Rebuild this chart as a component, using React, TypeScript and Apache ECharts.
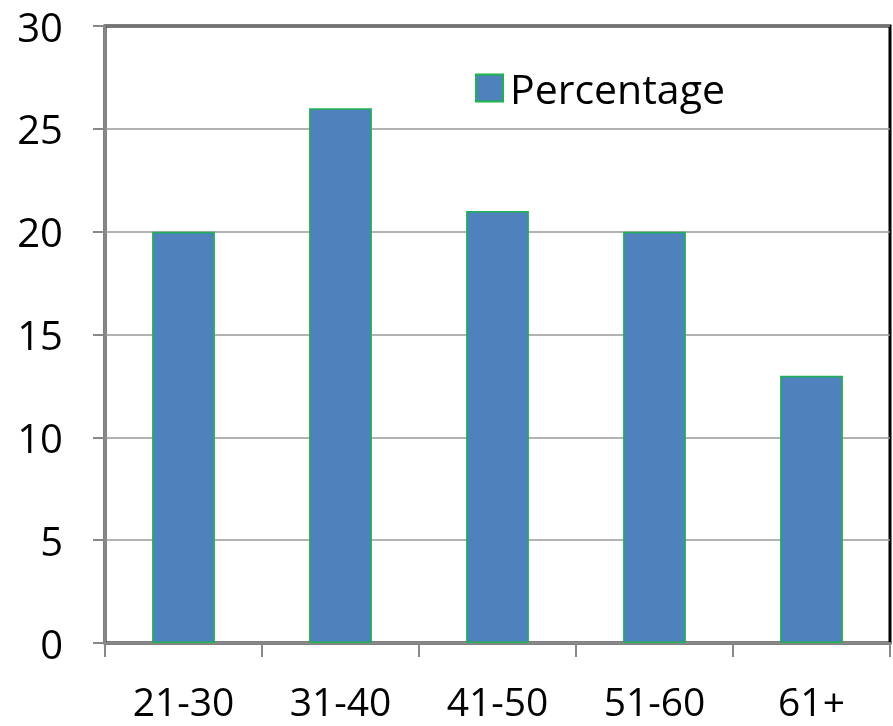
import React, { useEffect, useRef } from "react";
import * as echarts from "echarts";

const categories = ["21-30", "31-40", "41-50", "51-60", "61+"];
const percentage = [20, 26, 21, 20, 13];
const seriesName = "Percentage";

export default function App() {
  const ref = useRef<HTMLDivElement>(null);
  useEffect(() => {
    const chart = echarts.init(ref.current!, null, { renderer: "svg" });
    const font = "'Open Sans', 'Noto Sans', sans-serif";
    chart.setOption({
      animation: false,
      textStyle: { fontFamily: font },
      grid: {
        left: 105,
        right: 3,
        top: 26,
        bottom: 83,
        show: true,
        borderColor: "#000",
        borderWidth: 3,
        backgroundColor: "#fff",
      },
      legend: {
        show: true,
        data: [seriesName],
        icon: "rect",
        left: 470,
        top: 60,
        itemWidth: 27,
        itemHeight: 27,
        itemGap: 10,
        textStyle: { fontSize: 41, lineHeight: 46, color: "#000", fontFamily: font, padding: [0, 0, 0, 2] },
      },
      xAxis: {
        type: "category",
        data: categories,
        boundaryGap: true,
        axisLine: { show: true, lineStyle: { color: "#888", width: 2 } },
        axisTick: { show: true, length: 14, lineStyle: { color: "#888", width: 2 } },
        axisLabel: { fontSize: 39, lineHeight: 34, color: "#000", margin: 40, fontFamily: font },
      },
      yAxis: {
        type: "value",
        min: 0,
        max: 30,
        interval: 5,
        axisLine: { show: true, lineStyle: { color: "#888", width: 2 } },
        axisTick: { show: true, length: 12, inside: false, lineStyle: { color: "#888", width: 2 } },
        axisLabel: { fontSize: 40, lineHeight: 36, color: "#000", margin: 42, fontFamily: font },
        splitLine: { show: true, lineStyle: { color: "#999", width: 1.5 } },
      },
      series: [
        {
          name: seriesName,
          type: "bar",
          data: percentage,
          barWidth: "40%",
          itemStyle: { color: "#4f81bd", borderColor: "#1fb34f", borderWidth: 1.5 },
        },
      ],
    });
    return () => chart.dispose();
  }, []);
  return (
    <div
      ref={ref}
      style={{ position: "fixed", left: 0, top: 0, width: 893, height: 726 }}
    />
  );
}
